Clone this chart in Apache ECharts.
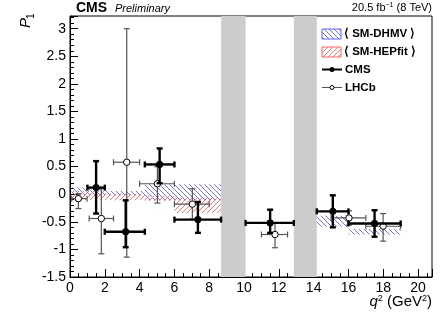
<!DOCTYPE html>
<html>
<head>
<meta charset="utf-8">
<script src="https://cdn.jsdelivr.net/npm/echarts@6/dist/echarts.min.js"></script>
<style>html,body{margin:0;padding:0;background:#fff}#chart{width:441px;height:318px}</style>
</head>
<body>
<div id="chart"></div>
<script>
// CMS points: centre, bin edges, value, lower / upper end of the error bar
var cmsX = [1.5, 3.2, 5.15, 7.35, 11.5, 15.1, 17.5];
var cmsBinLo = [1, 2, 4.3, 6, 10.09, 14.18, 16];
var cmsBinHi = [2, 4.3, 6, 8.68, 12.86, 16, 19];
var cmsY = [0.12, -0.68, 0.54, -0.46, -0.52, -0.31, -0.53];
var cmsLo = [-0.35, -0.96, 0.2, -0.7, -0.7, -0.6, -0.77];
var cmsHi = [0.6, -0.11, 0.83, -0.14, -0.28, -0.02, -0.29];

// LHCb points
var lhcbX = [0.48, 1.8, 3.26, 5.02, 7.03, 11.78, 16.03, 17.99];
var lhcbBinLo = [0.1, 1.1, 2.5, 4, 6, 11, 15, 17];
var lhcbBinHi = [0.98, 2.5, 4, 6, 8, 12.5, 17, 19];
var lhcbY = [-0.08, -0.44, 0.58, 0.19, -0.18, -0.73, -0.43, -0.58];
var lhcbLo = [-0.26, -1.08, -1.14, -0.16, -0.45, -0.97, -0.56, -0.85];
var lhcbHi = [0.01, 0.1, 3.0, 0.5, 0.1, -0.52, -0.3, -0.35];

// theory bands
var dhmvLo = [0.1, 2, 4.3, 14.18, 16];
var dhmvHi = [2, 4.3, 8.68, 16, 19];
var dhmvYlo = [-0.02, -0.02, -0.11, -0.59, -0.73];
var dhmvYhi = [0.12, 0.06, 0.18, -0.39, -0.63];

var hepLo = [0.1, 2, 4.3, 6];
var hepHi = [2, 4.3, 6, 8.68];
var hepYlo = [-0.1, -0.11, -0.12, -0.34];
var hepYhi = [0.06, 0.01, -0.03, -0.05];

// charmonium vetoes
var vetoLo = [8.68, 12.86];
var vetoHi = [10.09, 14.18];

var xTickLabels = ['0', '2', '4', '6', '8', '10', '12', '14', '16', '18', '20'];

function hatch(color, back) {
    var s = 5;
    var c = document.createElement('canvas');
    c.width = s; c.height = s;
    var ctx = c.getContext('2d');
    ctx.strokeStyle = color;
    ctx.lineWidth = 0.9;
    ctx.beginPath();
    if (back) {
        ctx.moveTo(-1, -1); ctx.lineTo(s + 1, s + 1);
        ctx.moveTo(-1, s - 1); ctx.lineTo(1, s + 1);
        ctx.moveTo(s - 1, -1); ctx.lineTo(s + 1, 1);
    } else {
        ctx.moveTo(-1, s + 1); ctx.lineTo(s + 1, -1);
        ctx.moveTo(-1, 1); ctx.lineTo(1, -1);
        ctx.moveTo(s - 1, s + 1); ctx.lineTo(s + 1, s - 1);
    }
    ctx.stroke();
    return {image: c, repeat: 'repeat'};
}
var blueFill = hatch('#6060ff', true);
var redFill = hatch('#ff6464', false);

function zip() {
    var cols = arguments, out = [];
    for (var i = 0; i < cols[0].length; i++) {
        var row = [];
        for (var j = 0; j < cols.length; j++) row.push(cols[j][i]);
        out.push(row);
    }
    return out;
}

function bandRender(fill) {
    return function (params, api) {
        var a = api.coord([api.value(0), api.value(3)]);
        var b = api.coord([api.value(1), api.value(2)]);
        return {type: 'rect', shape: {x: a[0], y: a[1], width: b[0] - a[0], height: b[1] - a[1]},
            style: {fill: fill}};
    };
}

function vetoRender(params, api) {
    var cs = params.coordSys;
    var a = api.coord([api.value(0), 0])[0];
    var b = api.coord([api.value(1), 0])[0];
    return {type: 'rect', shape: {x: a, y: cs.y, width: b - a, height: cs.height},
        style: {fill: '#cccccc'}};
}

function errRender(cfg) {
    return function (params, api) {
        var p = api.coord([api.value(0), api.value(1)]);
        var xl = api.coord([api.value(2), 0])[0];
        var xh = api.coord([api.value(3), 0])[0];
        var yl = api.coord([0, api.value(4)])[1];
        var yh = api.coord([0, api.value(5)])[1];
        var st = {stroke: cfg.color, lineWidth: cfg.width};
        var c = cfg.cap;
        var kids = [
            {type: 'line', shape: {x1: xl, y1: p[1], x2: xh, y2: p[1]}, style: st},
            {type: 'line', shape: {x1: p[0], y1: yh, x2: p[0], y2: yl}, style: st},
            {type: 'line', shape: {x1: xl, y1: p[1] - c, x2: xl, y2: p[1] + c}, style: st},
            {type: 'line', shape: {x1: xh, y1: p[1] - c, x2: xh, y2: p[1] + c}, style: st},
            {type: 'line', shape: {x1: p[0] - c, y1: yh, x2: p[0] + c, y2: yh}, style: st},
            {type: 'line', shape: {x1: p[0] - c, y1: yl, x2: p[0] + c, y2: yl}, style: st},
            {type: 'circle', shape: {cx: p[0], cy: p[1], r: cfg.r},
                style: {fill: cfg.fill, stroke: '#000', lineWidth: 1}}
        ];
        return {type: 'group', children: kids};
    };
}

var font = 'Liberation Sans, Arial, sans-serif';
var chart = echarts.init(document.getElementById('chart'));

var option = {
    backgroundColor: '#fff',
    animation: false,
    grid: {left: 70, right: 9, top: 16, bottom: 41, show: true, borderColor: '#000', borderWidth: 1},
    xAxis: {
        type: 'value', min: 0, max: 20.8, interval: 2,
        axisLine: {show: true, onZero: false, lineStyle: {color: '#000'}},
        axisTick: {inside: true, length: 8, lineStyle: {color: '#000'}},
        minorTick: {show: true, splitNumber: 4, length: 4, lineStyle: {color: '#000'}},
        splitLine: {show: false},
        axisLabel: {
            margin: 4, color: '#000', fontSize: 14, fontFamily: font,
            showMaxLabel: false,
            formatter: function (v) {
                var i = Math.round(v / 2);
                return Math.abs(v - i * 2) < 1e-6 ? xTickLabels[i] : '';
            }
        }
    },
    yAxis: {
        type: 'value', min: -1.5, max: 3.23, interval: 0.5,
        axisLine: {show: true, onZero: false, lineStyle: {color: '#000'}},
        axisTick: {inside: true, length: 8, lineStyle: {color: '#000'}},
        minorTick: {show: true, splitNumber: 5, length: 4, lineStyle: {color: '#000'}},
        splitLine: {show: false},
        axisLabel: {
            margin: 4, color: '#000', fontSize: 14, fontFamily: font,
            showMaxLabel: false,
            formatter: function (v) {
                var k = Math.round(v * 2);
                return Math.abs(v * 2 - k) < 1e-6 ? String(k / 2) : '';
            }
        }
    },
    series: [
        {type: 'custom', name: 'veto', renderItem: vetoRender, data: zip(vetoLo, vetoHi), z: 1, silent: true},
        {type: 'custom', name: 'SM-DHMV', renderItem: bandRender(blueFill),
            data: zip(dhmvLo, dhmvHi, dhmvYlo, dhmvYhi), z: 2},
        {type: 'custom', name: 'SM-HEPfit', renderItem: bandRender(redFill),
            data: zip(hepLo, hepHi, hepYlo, hepYhi), z: 2},
        {type: 'custom', name: 'LHCb', renderItem: errRender({color: '#555', width: 1.2, cap: 3, r: 3.2, fill: '#fff'}),
            data: zip(lhcbX, lhcbY, lhcbBinLo, lhcbBinHi, lhcbLo, lhcbHi), z: 3},
        {type: 'custom', name: 'CMS', renderItem: errRender({color: '#000', width: 2.4, cap: 3, r: 3.2, fill: '#000'}),
            data: zip(cmsX, cmsY, cmsBinLo, cmsBinHi, cmsLo, cmsHi), z: 4}
    ],
    graphic: [
        {type: 'text', left: 76, top: 1, style: {text: 'CMS', font: 'bold 14px ' + font, fill: '#000'}},
        {type: 'text', left: 115, top: 3, style: {text: 'Preliminary', font: 'italic 11px ' + font, fill: '#000'}},
        {type: 'text', right: 9, top: 2, style: {
            text: '20.5 fb{s|−1} (8 TeV)', font: '11px ' + font, fill: '#000',
            rich: {s: {fontSize: 7, verticalAlign: 'top', fontFamily: font, padding: [0, 0, 5, 0]}}}},
        // y title P1
        {type: 'text', x: 33, y: 28, rotation: Math.PI / 2, style: {
            text: 'P', font: 'italic 15px ' + font, fill: '#000', textAlign: 'left', textVerticalAlign: 'bottom'}},
        {type: 'text', x: 36, y: 19, rotation: Math.PI / 2, style: {
            text: '1', font: '10px ' + font, fill: '#000', textAlign: 'left', textVerticalAlign: 'bottom'}},
        // x title
        {type: 'text', right: 9, top: 294, style: {
            text: '{q|q}{s|2} (GeV{s|2})', font: '15px ' + font, fill: '#000',
            rich: {q: {fontStyle: 'italic', fontSize: 15, fontFamily: font},
                s: {fontSize: 9, fontFamily: font, verticalAlign: 'top', padding: [0, 0, 7, 0]}}}},
        // legend
        {type: 'rect', shape: {x: 322, y: 29, width: 19, height: 10}, style: {fill: blueFill, stroke: '#6060ff', lineWidth: 1}},
        {type: 'text', x: 344, y: 34, style: {text: '⟨ SM-DHMV ⟩', font: 'bold 11.5px ' + font, fill: '#000', textVerticalAlign: 'middle'}},
        {type: 'rect', shape: {x: 322, y: 47, width: 19, height: 10}, style: {fill: redFill, stroke: '#ff6464', lineWidth: 1}},
        {type: 'text', x: 344, y: 52, style: {text: '⟨ SM-HEPfit ⟩', font: 'bold 11.5px ' + font, fill: '#000', textVerticalAlign: 'middle'}},
        {type: 'line', shape: {x1: 322, y1: 69.5, x2: 342, y2: 69.5}, style: {stroke: '#000', lineWidth: 2}},
        {type: 'circle', shape: {cx: 332, cy: 69.5, r: 2.5}, style: {fill: '#000'}},
        {type: 'text', x: 345, y: 70, style: {text: 'CMS', font: 'bold 11.5px ' + font, fill: '#000', textVerticalAlign: 'middle'}},
        {type: 'line', shape: {x1: 322, y1: 87.5, x2: 342, y2: 87.5}, style: {stroke: '#555', lineWidth: 1}},
        {type: 'circle', shape: {cx: 332, cy: 87.5, r: 2}, style: {fill: '#fff', stroke: '#000', lineWidth: 1}},
        {type: 'text', x: 345, y: 88, style: {text: 'LHCb', font: 'bold 11.5px ' + font, fill: '#000', textVerticalAlign: 'middle'}}
    ]
};
chart.setOption(option);
</script>
</body>
</html>
